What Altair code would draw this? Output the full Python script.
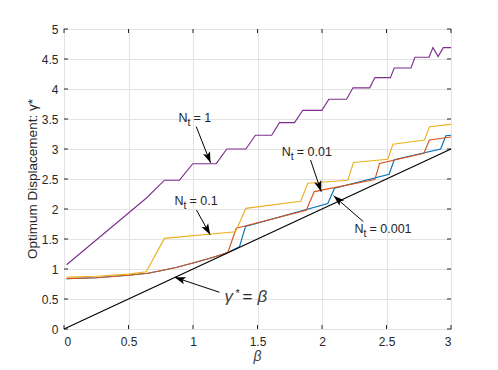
import math
import altair as alt
import pandas as pd

# ---------------- data ----------------
x_ticks = [0, 0.5, 1, 1.5, 2, 2.5, 3]
y_ticks = [0, 0.5, 1, 1.5, 2, 2.5, 3, 3.5, 4, 4.5, 5]

# shared low-beta curve of N_t = 0.01 and N_t = 0.001
curve_beta = [0.02, 0.25, 0.5, 0.65, 0.75, 0.875, 1.0, 1.125, 1.2, 1.27]
curve_gamma = [0.84, 0.855, 0.895, 0.93, 0.97, 1.03, 1.1, 1.175, 1.225, 1.275]

blue_beta = curve_beta + [1.36, 1.407, 2.045, 2.097, 2.52, 2.56, 2.92, 2.96, 3.0]
blue_gamma = curve_gamma + [1.37, 1.71, 2.09, 2.345, 2.58, 2.82, 3.0, 3.22, 3.23]

red_beta = curve_beta + [1.335, 1.41, 1.878, 1.94, 2.41, 2.446, 2.79, 2.833, 3.0]
red_gamma = curve_gamma + [1.68, 1.72, 1.98, 2.29, 2.49, 2.76, 2.93, 3.15, 3.2]

yellow_beta = [0.02, 0.25, 0.5, 0.637, 0.779, 1.33, 1.41, 1.835, 1.89, 2.2,
               2.244, 2.51, 2.55, 2.795, 2.833, 3.0]
yellow_gamma = [0.865, 0.88, 0.915, 0.955, 1.51, 1.62, 2.01, 2.13, 2.43, 2.48,
                2.775, 2.83, 3.08, 3.15, 3.37, 3.41]

purple_beta = [0.02, 0.637, 0.779, 0.895, 0.998, 1.18, 1.262, 1.41, 1.484, 1.61,
               1.67, 1.787, 1.851, 1.999, 2.053, 2.19, 2.24, 2.37, 2.41, 2.53,
               2.56, 2.69, 2.72, 2.83, 2.86, 2.90, 2.94, 3.0]
purple_gamma = [1.07, 2.18, 2.48, 2.48, 2.755, 2.755, 3.0, 3.0, 3.23, 3.23,
                3.44, 3.44, 3.645, 3.645, 3.83, 3.83, 4.02, 4.02, 4.19, 4.19,
                4.35, 4.35, 4.53, 4.53, 4.69, 4.54, 4.69, 4.69]

black_beta = [0.0, 3.0]
black_gamma = [0.0, 3.0]

# annotation labels (left baseline of "N") and arrows
ann_value = ["1", "0.1", "0.01", "0.001"]
ann_beta = [0.8876, 0.857, 1.688, 2.252]
ann_gamma = [3.442, 2.067, 2.883, 1.595]

arrow_tail_beta = [1.025, 1.027, 1.911, 2.32, 1.205]
arrow_tail_gamma = [3.372, 1.983, 2.817, 1.79, 0.612]
arrow_tip_beta = [1.136, 1.133, 1.994, 2.09, 0.857]
arrow_tip_gamma = [2.77, 1.57, 2.288, 2.22, 0.862]

eq_beta = [1.244]
eq_gamma = [0.458]

# ---------------- styling ----------------
W, H = 387, 300
PX_B = W / 3.0
PX_G = H / 5.0
FONT = "Liberation Sans"
TXT = "#262626"

xscale = alt.Scale(domain=[0, 3], nice=False)
yscale = alt.Scale(domain=[0, 5], nice=False)

X = alt.X("beta:Q", scale=xscale,
          axis=alt.Axis(values=x_ticks, format="~g", title=None, grid=True,
                        tickSize=0, domain=False, labelPadding=7))
Y = alt.Y("gamma:Q", scale=yscale,
          axis=alt.Axis(values=y_ticks, format="~g", title=None, grid=True,
                        tickSize=0, domain=False, labelPadding=6))


def line_layer(bs, gs, color):
    d = pd.DataFrame({"beta": bs, "gamma": gs, "o": list(range(len(bs)))})
    return alt.Chart(d).mark_line(color=color, strokeWidth=1.15).encode(
        x=X, y=Y, order="o:Q")


layers = []

# inner tick marks (MATLAB box style)
xt = pd.DataFrame({"beta": x_ticks})
yt = pd.DataFrame({"gamma": y_ticks})
layers.append(alt.Chart(xt).mark_rule(color=TXT, strokeWidth=1).encode(
    x=X, y=alt.value(H), y2=alt.value(H - 4)))
layers.append(alt.Chart(xt).mark_rule(color=TXT, strokeWidth=1).encode(
    x=X, y=alt.value(0), y2=alt.value(4)))
layers.append(alt.Chart(yt).mark_rule(color=TXT, strokeWidth=1).encode(
    y=Y, x=alt.value(0), x2=alt.value(4)))
layers.append(alt.Chart(yt).mark_rule(color=TXT, strokeWidth=1).encode(
    y=Y, x=alt.value(W), x2=alt.value(W - 4)))

layers.append(line_layer(blue_beta, blue_gamma, "#0072BD"))
layers.append(line_layer(red_beta, red_gamma, "#D95319"))
layers.append(line_layer(yellow_beta, yellow_gamma, "#EDB120"))
layers.append(line_layer(purple_beta, purple_gamma, "#7E2F8E"))
layers.append(line_layer(black_beta, black_gamma, "#000000"))

# arrows
angles = []
for tb, tg, hb, hg in zip(arrow_tail_beta, arrow_tail_gamma, arrow_tip_beta, arrow_tip_gamma):
    a = math.degrees(math.atan2((hb - tb) * PX_B, (hg - tg) * PX_G))
    angles.append(a % 360)
arr = pd.DataFrame({"beta": arrow_tail_beta, "gamma": arrow_tail_gamma,
                    "beta2": arrow_tip_beta, "gamma2": arrow_tip_gamma})
tips = pd.DataFrame({"beta": arrow_tip_beta, "gamma": arrow_tip_gamma, "ang": angles})
layers.append(alt.Chart(arr).mark_rule(color="black", strokeWidth=1).encode(
    x=X, y=Y, x2="beta2:Q", y2="gamma2:Q"))
layers.append(alt.Chart(tips).mark_point(
    shape="M0,0L-0.75,2.2L0,1.7L0.75,2.2Z", filled=True, color="black",
    opacity=1, size=100, strokeWidth=0).encode(
    x=X, y=Y, angle=alt.Angle("ang:Q", scale=None)))

# N_t labels
lab = pd.DataFrame({"beta": ann_beta, "gamma": ann_gamma,
                    "rest": ["= " + v for v in ann_value]})
layers.append(alt.Chart(lab).mark_text(
    text="N", align="left", baseline="alphabetic", font=FONT, fontSize=12.5,
    color=TXT).encode(x=X, y=Y))
layers.append(alt.Chart(lab).mark_text(
    text="t", align="left", baseline="alphabetic", font=FONT, fontSize=10.5,
    color=TXT, dx=9, dy=4).encode(x=X, y=Y))
layers.append(alt.Chart(lab).mark_text(
    align="left", baseline="alphabetic", font=FONT, fontSize=12.5,
    color=TXT, dx=15).encode(x=X, y=Y, text="rest:N"))

# gamma* = beta label
eq = pd.DataFrame({"beta": eq_beta, "gamma": eq_gamma})
layers.append(alt.Chart(eq).mark_text(
    text="γ", align="left", baseline="alphabetic", font=FONT, fontSize=17,
    fontStyle="italic", color="#404040").encode(x=X, y=Y))
layers.append(alt.Chart(eq).mark_text(
    text="*", align="left", baseline="alphabetic", font=FONT, fontSize=11,
    color=TXT, dx=11, dy=-5).encode(x=X, y=Y))
layers.append(alt.Chart(eq).mark_text(
    text="=", align="left", baseline="alphabetic", font=FONT, fontSize=17,
    color=TXT, dx=18).encode(x=X, y=Y))
layers.append(alt.Chart(eq).mark_text(
    text="β", align="left", baseline="alphabetic", font=FONT, fontSize=17,
    fontStyle="italic", color="#404040", dx=33).encode(x=X, y=Y))

# axis titles
one = pd.DataFrame({"a": [0]})
layers.append(alt.Chart(one).mark_text(
    text="Optimum Displacement: γ*", angle=270, align="center",
    baseline="middle", font=FONT, fontSize=13.5, color=TXT).encode(
    x=alt.value(-31.5), y=alt.value(H / 2)))
layers.append(alt.Chart(one).mark_text(
    text="β", align="center", baseline="middle", font=FONT, fontSize=14,
    fontStyle="italic", color="#404040").encode(
    x=alt.value(W / 2), y=alt.value(H + 28)))

chart = alt.layer(*layers).properties(
    width=W, height=H,
    autosize=alt.AutoSizeParams(type="none"),
    padding={"left": 56, "top": 21, "right": 30, "bottom": 38},
).configure_view(
    stroke=TXT, strokeWidth=1
).configure_axis(
    labelFont=FONT, labelFontSize=12, labelColor=TXT,
    gridColor="#e3e3e3", gridWidth=1
)

chart.save("out.html", embed_options={"renderer": "svg", "actions": False})
